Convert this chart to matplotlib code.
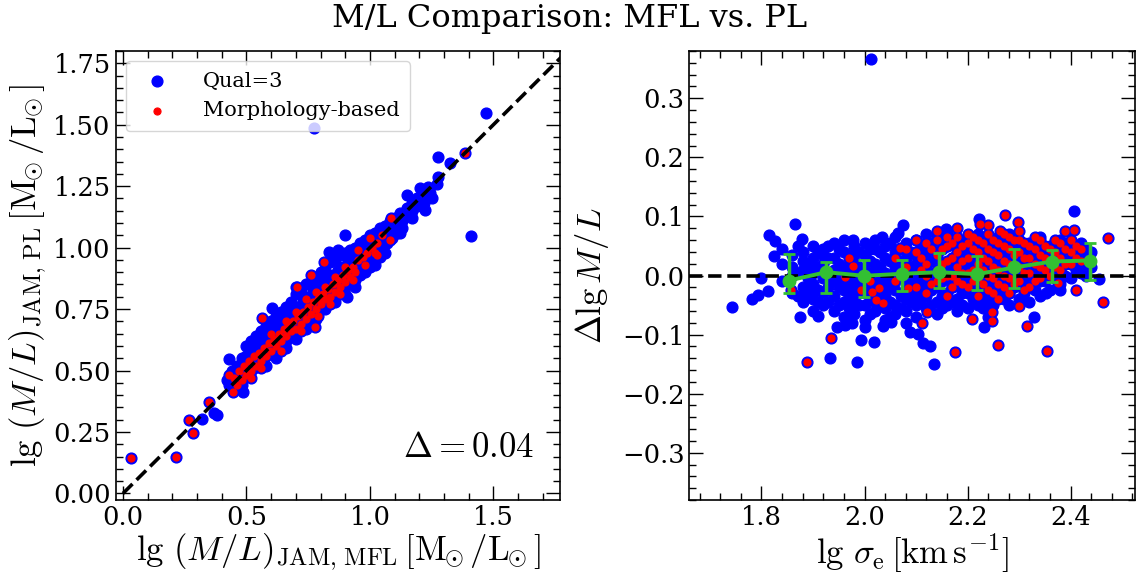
import numpy as np
import matplotlib
matplotlib.use('Agg')
import matplotlib.pyplot as plt
from matplotlib.ticker import MultipleLocator

plt.rcParams['font.family'] = 'DejaVu Serif'
plt.rcParams['mathtext.fontset'] = 'cm'

# ---- left panel: lg(M/L) MFL vs PL ----
left_blue = [
    (0.42, 0.46), (0.43, 0.44), (0.44, 0.50), (0.45, 0.46), (0.45, 0.43),
    (0.46, 0.52), (0.47, 0.49), (0.47, 0.45), (0.48, 0.55), (0.49, 0.52),
    (0.49, 0.48), (0.48, 0.44), (0.50, 0.60), (0.50, 0.56), (0.51, 0.53),
    (0.51, 0.49), (0.52, 0.62), (0.52, 0.58), (0.53, 0.55), (0.53, 0.51),
    (0.54, 0.64), (0.54, 0.60), (0.55, 0.57), (0.55, 0.53), (0.56, 0.66),
    (0.56, 0.62), (0.57, 0.59), (0.57, 0.55), (0.58, 0.52), (0.58, 0.68),
    (0.59, 0.64), (0.59, 0.60), (0.60, 0.57), (0.60, 0.70), (0.61, 0.66),
    (0.61, 0.62), (0.62, 0.58), (0.62, 0.55), (0.62, 0.72), (0.63, 0.68),
    (0.63, 0.64), (0.64, 0.60), (0.64, 0.74), (0.65, 0.70), (0.65, 0.66),
    (0.66, 0.62), (0.66, 0.59), (0.66, 0.76), (0.67, 0.72), (0.67, 0.68),
    (0.68, 0.64), (0.68, 0.78), (0.69, 0.74), (0.69, 0.70), (0.70, 0.66),
    (0.70, 0.63), (0.70, 0.81), (0.71, 0.76), (0.71, 0.72), (0.72, 0.68),
    (0.72, 0.83), (0.73, 0.78), (0.73, 0.74), (0.74, 0.70), (0.74, 0.67),
    (0.74, 0.85), (0.75, 0.80), (0.75, 0.76), (0.76, 0.72), (0.76, 0.86),
    (0.77, 0.82), (0.77, 0.78), (0.78, 0.74), (0.78, 0.71), (0.78, 0.87),
    (0.79, 0.84), (0.79, 0.80), (0.80, 0.76), (0.80, 0.90), (0.81, 0.86),
    (0.81, 0.82), (0.82, 0.78), (0.82, 0.75), (0.82, 0.91), (0.83, 0.87),
    (0.83, 0.83), (0.84, 0.79), (0.84, 0.94), (0.85, 0.89), (0.85, 0.85),
    (0.86, 0.81), (0.86, 0.78), (0.86, 0.95), (0.87, 0.91), (0.87, 0.87),
    (0.88, 0.83), (0.88, 0.97), (0.89, 0.92), (0.89, 0.88), (0.90, 0.84),
    (0.90, 0.81), (0.90, 0.98), (0.91, 0.94), (0.91, 0.90), (0.92, 0.86),
    (0.92, 0.99), (0.93, 0.95), (0.93, 0.91), (0.94, 0.87), (0.94, 0.84),
    (0.94, 1.00), (0.95, 0.96), (0.95, 0.93), (0.96, 0.89), (0.96, 1.02),
    (0.97, 0.98), (0.97, 0.94), (0.98, 0.90), (0.98, 1.03), (0.99, 0.99),
    (0.99, 0.95), (1.00, 0.92), (1.00, 1.05), (1.01, 1.01), (1.01, 0.97),
    (1.02, 0.93), (1.02, 1.06), (1.03, 1.03), (1.03, 0.99), (1.04, 0.96),
    (1.04, 1.08), (1.05, 1.05), (1.05, 1.01), (1.06, 0.98), (1.06, 1.09),
    (1.07, 1.06), (1.07, 1.02), (1.08, 1.11), (1.09, 1.08), (1.09, 1.04),
    (1.10, 1.12), (1.11, 1.09), (1.11, 1.06), (1.12, 1.14), (1.13, 1.11),
    (1.13, 1.08), (1.15, 1.16), (1.15, 1.13), (1.17, 1.18), (1.17, 1.15),
    (1.19, 1.20), (1.19, 1.17), (1.21, 1.22), (1.22, 1.18), (1.24, 1.24),
    (1.25, 1.20), (1.27, 1.26),
    # isolated points
    (0.32, 0.301), (0.37, 0.327), (0.382, 0.319), (0.43, 0.545),
    (0.484, 0.414), (0.602, 0.755), (0.901, 1.051), (1.411, 1.047),
    (1.472, 1.547), (0.773, 1.486), (1.274, 1.370), (1.324, 1.343),
    (1.274, 1.289), (1.149, 1.214), (1.203, 1.241), (1.237, 1.248),
    (1.243, 1.221), (1.223, 1.153), (1.169, 1.119), (1.123, 1.058),
    (0.907, 0.800), (0.833, 0.983), (0.70, 0.84), (0.87, 0.99),
]
left_red = [
    (0.45, 0.47), (0.46, 0.44), (0.47, 0.50), (0.48, 0.46), (0.49, 0.52),
    (0.50, 0.48), (0.51, 0.54), (0.52, 0.50), (0.53, 0.56), (0.54, 0.52),
    (0.55, 0.57), (0.56, 0.54), (0.57, 0.59), (0.58, 0.56), (0.59, 0.61),
    (0.60, 0.58), (0.61, 0.63), (0.62, 0.60), (0.63, 0.65), (0.64, 0.62),
    (0.65, 0.67), (0.66, 0.64), (0.67, 0.69), (0.68, 0.66), (0.69, 0.70),
    (0.70, 0.67), (0.71, 0.72), (0.72, 0.69), (0.73, 0.74), (0.74, 0.71),
    (0.75, 0.76), (0.76, 0.73), (0.77, 0.78), (0.78, 0.75), (0.79, 0.79),
    (0.80, 0.77), (0.81, 0.81), (0.82, 0.79), (0.83, 0.83), (0.84, 0.80),
    (0.85, 0.85), (0.86, 0.82), (0.87, 0.87), (0.88, 0.84), (0.89, 0.89),
    (0.90, 0.86), (0.91, 0.91), (0.92, 0.88), (0.93, 0.92), (0.94, 0.90),
    (0.95, 0.95), (0.97, 0.96), (0.99, 0.98), (1.01, 1.00), (1.03, 1.02),
    (1.05, 1.05), (0.60, 0.65), (0.66, 0.70), (0.70, 0.74), (0.74, 0.79),
    (0.78, 0.82), (0.82, 0.84), (0.86, 0.88), (0.90, 0.92), (0.95, 0.99),
    (1.00, 1.04), (1.02, 0.98), (0.98, 0.93), (0.93, 0.87), (0.88, 0.81),
    (0.84, 0.77), (0.79, 0.72), (0.72, 0.66), (0.64, 0.58), (0.56, 0.51),
    (0.52, 0.47),
    # isolated points
    (0.034, 0.142), (0.215, 0.149), (0.266, 0.298), (0.282, 0.247),
    (0.35, 0.373), (0.43, 0.48), (0.444, 0.414), (0.562, 0.712),
    (1.385, 1.384), (1.086, 1.122), (1.082, 1.031), (1.028, 0.970),
    (0.813, 0.943), (0.760, 0.888), (0.706, 0.841), (0.777, 0.678),
]
scatter_delta = 0.04

# ---- right panel: residual vs lg sigma_e ----
right_blue = [
    (1.84, 0.02), (1.84, -0.01), (1.84, 0.045),
    (1.86, 0.035), (1.86, 0.00), (1.86, -0.03), (1.86, 0.015),
    (1.88, 0.04), (1.88, 0.01), (1.88, -0.02), (1.88, -0.045), (1.88, 0.025),
    (1.90, 0.03), (1.90, 0.005), (1.90, -0.015), (1.90, -0.04), (1.90, 0.05), (1.90, -0.06),
    (1.92, 0.045), (1.92, 0.02), (1.92, -0.005), (1.92, -0.03), (1.92, -0.05), (1.92, 0.035),
    (1.94, 0.055), (1.94, 0.03), (1.94, 0.01), (1.94, -0.01), (1.94, -0.035), (1.94, -0.06),
    (1.96, 0.04), (1.96, 0.015), (1.96, -0.005), (1.96, -0.025), (1.96, -0.045), (1.96, 0.06), (1.96, -0.07),
    (1.98, 0.05), (1.98, 0.025), (1.98, 0.0), (1.98, -0.02), (1.98, -0.04), (1.98, -0.065),
    (2.00, 0.055), (2.00, 0.035), (2.00, 0.01), (2.00, -0.01), (2.00, -0.03), (2.00, -0.05), (2.00, -0.075),
    (2.02, 0.045), (2.02, 0.02), (2.02, 0.0), (2.02, -0.02), (2.02, -0.045), (2.02, -0.06), (2.02, 0.06),
    (2.04, 0.05), (2.04, 0.03), (2.04, 0.005), (2.04, -0.015), (2.04, -0.035), (2.04, -0.055), (2.04, -0.075),
    (2.06, 0.065), (2.06, 0.04), (2.06, 0.015), (2.06, -0.005), (2.06, -0.025), (2.06, -0.05), (2.06, -0.065),
    (2.08, 0.055), (2.08, 0.03), (2.08, 0.01), (2.08, -0.015), (2.08, -0.04), (2.08, -0.06), (2.08, -0.08),
    (2.10, 0.06), (2.10, 0.035), (2.10, 0.02), (2.10, -0.005), (2.10, -0.03), (2.10, -0.05), (2.10, -0.07),
    (2.12, 0.07), (2.12, 0.04), (2.12, 0.015), (2.12, -0.01), (2.12, -0.035), (2.12, -0.055),
    (2.14, 0.065), (2.14, 0.03), (2.14, 0.005), (2.14, -0.02), (2.14, -0.045), (2.14, -0.065),
    (2.16, 0.075), (2.16, 0.05), (2.16, 0.02), (2.16, -0.005), (2.16, -0.03), (2.16, -0.05),
    (2.18, 0.06), (2.18, 0.035), (2.18, 0.01), (2.18, -0.015), (2.18, -0.04), (2.18, -0.06),
    (2.20, 0.065), (2.20, 0.04), (2.20, 0.015), (2.20, -0.01), (2.20, -0.03), (2.20, -0.055),
    (2.22, 0.07), (2.22, 0.045), (2.22, 0.02), (2.22, -0.005), (2.22, -0.025), (2.22, -0.05),
    (2.24, 0.06), (2.24, 0.03), (2.24, 0.005), (2.24, -0.02), (2.24, -0.045), (2.24, -0.07),
    (2.26, 0.065), (2.26, 0.04), (2.26, 0.015), (2.26, -0.01), (2.26, -0.035),
    (2.28, 0.07), (2.28, 0.045), (2.28, 0.02), (2.28, -0.005), (2.28, -0.03), (2.28, -0.05),
    (2.30, 0.06), (2.30, 0.035), (2.30, 0.01), (2.30, -0.015), (2.30, -0.04),
    (2.32, 0.055), (2.32, 0.03), (2.32, 0.005), (2.32, -0.02), (2.32, -0.045),
    (2.34, 0.065), (2.34, 0.04), (2.34, 0.015), (2.34, -0.01), (2.34, -0.035),
    (2.36, 0.05), (2.36, 0.025), (2.36, 0.0), (2.36, -0.025),
    (2.38, 0.06), (2.38, 0.035), (2.38, 0.01), (2.38, -0.015),
    (2.40, 0.045), (2.40, 0.02), (2.40, -0.005),
    (2.42, 0.055), (2.42, 0.03), (2.42, 0.005),
    (2.44, 0.04), (2.44, 0.015),
    (1.87, 0.005), (1.87, -0.035), (1.87, 0.05),
    (1.89, 0.02), (1.89, -0.005), (1.89, -0.03),
    (1.91, 0.04), (1.91, 0.015), (1.91, -0.025), (1.91, -0.045),
    (1.93, 0.03), (1.93, 0.0), (1.93, -0.02), (1.93, -0.045), (1.93, 0.05),
    (1.95, 0.045), (1.95, 0.02), (1.95, 0.0), (1.95, -0.02), (1.95, -0.05),
    (1.97, 0.035), (1.97, 0.01), (1.97, -0.015), (1.97, -0.035), (1.97, -0.055),
    (1.99, 0.04), (1.99, 0.015), (1.99, -0.01), (1.99, -0.03), (1.99, -0.05),
    (2.01, 0.045), (2.01, 0.025), (2.01, 0.005), (2.01, -0.015), (2.01, -0.04), (2.01, -0.065),
    (2.03, 0.04), (2.03, 0.015), (2.03, -0.005), (2.03, -0.025), (2.03, -0.05),
    (2.05, 0.055), (2.05, 0.025), (2.05, 0.0), (2.05, -0.02), (2.05, -0.045), (2.05, -0.07),
    (2.07, 0.045), (2.07, 0.02), (2.07, 0.0), (2.07, -0.035), (2.07, -0.055),
    (2.09, 0.04), (2.09, 0.015), (2.09, -0.005), (2.09, -0.025), (2.09, -0.045),
    (2.11, 0.05), (2.11, 0.025), (2.11, 0.005), (2.11, -0.02), (2.11, -0.04),
    (2.13, 0.055), (2.13, 0.025), (2.13, 0.0), (2.13, -0.025), (2.13, -0.05),
    (2.15, 0.045), (2.15, 0.015), (2.15, -0.01), (2.15, -0.035), (2.15, -0.055),
    (2.17, 0.06), (2.17, 0.03), (2.17, 0.005), (2.17, -0.02), (2.17, -0.045),
    (2.19, 0.05), (2.19, 0.02), (2.19, -0.005), (2.19, -0.03), (2.19, -0.05),
    (2.21, 0.055), (2.21, 0.03), (2.21, 0.005), (2.21, -0.02), (2.21, -0.04),
    (2.23, 0.05), (2.23, 0.015), (2.23, -0.01), (2.23, -0.035), (2.23, -0.055),
    (2.25, 0.05), (2.25, 0.025), (2.25, 0.0), (2.25, -0.025), (2.25, -0.05),
    (2.27, 0.055), (2.27, 0.03), (2.27, 0.005), (2.27, -0.02), (2.27, -0.04),
    (2.29, 0.05), (2.29, 0.025), (2.29, 0.0), (2.29, -0.02),
    (2.31, 0.045), (2.31, 0.02), (2.31, -0.005), (2.31, -0.03),
    (2.33, 0.05), (2.33, 0.025), (2.33, 0.0), (2.33, -0.025),
    (2.35, 0.04), (2.35, 0.015), (2.35, -0.01),
    (2.37, 0.045), (2.37, 0.02), (2.37, -0.005),
    (2.39, 0.05), (2.39, 0.025), (2.39, 0.0),
    (2.41, 0.035), (2.41, 0.01),
    (2.43, 0.045), (2.43, 0.02), (2.43, 0.0),
    # isolated points
    (2.012, 0.367), (1.743, -0.0525), (1.781, -0.039), (1.793, -0.033),
    (1.815, 0.069), (1.826, 0.058), (1.865, 0.088), (1.879, 0.062),
    (1.824, 0.033), (1.80, -0.004), (1.813, -0.027), (1.874, -0.071),
    (1.91, -0.069), (1.933, -0.14), (1.986, -0.147), (1.994, -0.109),
    (2.019, -0.112), (1.946, -0.087), (1.963, -0.084), (1.976, -0.08),
    (2.0, -0.087), (2.036, -0.086), (2.051, -0.078), (2.088, -0.095),
    (2.104, -0.099), (2.113, -0.115), (2.127, -0.119), (2.135, -0.150),
    (2.232, -0.087), (2.329, -0.071), (2.455, -0.006), (2.406, 0.110),
    (2.222, 0.096), (2.379, -0.024), (2.353, -0.030), (2.075, 0.086),
    (2.065, 0.072), (2.033, 0.066), (1.978, 0.060), (2.159, 0.078),
    (2.14, 0.072),
]
right_red = [
    (2.06, 0.03), (2.06, -0.01), (2.08, 0.045), (2.08, 0.015),
    (2.10, 0.04), (2.10, -0.02), (2.10, 0.06),
    (2.12, 0.055), (2.12, 0.02), (2.12, 0.0), (2.12, -0.03),
    (2.14, 0.06), (2.14, 0.035), (2.14, 0.01), (2.14, -0.01), (2.14, 0.075),
    (2.16, 0.05), (2.16, 0.025), (2.16, 0.0), (2.16, -0.035), (2.16, 0.065),
    (2.18, 0.065), (2.18, 0.04), (2.18, 0.015), (2.18, -0.01), (2.18, 0.08),
    (2.20, 0.055), (2.20, 0.03), (2.20, 0.005), (2.20, -0.02), (2.20, 0.07),
    (2.22, 0.06), (2.22, 0.04), (2.22, 0.02), (2.22, -0.005), (2.22, -0.035),
    (2.24, 0.07), (2.24, 0.045), (2.24, 0.025), (2.24, 0.0), (2.24, -0.025), (2.24, 0.085),
    (2.26, 0.055), (2.26, 0.035), (2.26, 0.01), (2.26, -0.015), (2.26, -0.04),
    (2.28, 0.065), (2.28, 0.045), (2.28, 0.02), (2.28, -0.005), (2.28, -0.03),
    (2.30, 0.06), (2.30, 0.04), (2.30, 0.015), (2.30, -0.01), (2.30, 0.075),
    (2.32, 0.05), (2.32, 0.03), (2.32, 0.005), (2.32, -0.02),
    (2.34, 0.06), (2.34, 0.035), (2.34, 0.015), (2.34, -0.005),
    (2.36, 0.045), (2.36, 0.025), (2.36, 0.0),
    (2.38, 0.055), (2.38, 0.03), (2.38, 0.01),
    (2.40, 0.06), (2.40, 0.04), (2.40, 0.02),
    (2.42, 0.045), (2.42, 0.025), (1.97, 0.03), (2.01, -0.01),
    (2.15, 0.045), (2.15, 0.02), (2.15, -0.005),
    (2.17, 0.055), (2.17, 0.03), (2.17, 0.0), (2.17, -0.02),
    (2.19, 0.05), (2.19, 0.025), (2.19, 0.005), (2.19, -0.015),
    (2.21, 0.065), (2.21, 0.045), (2.21, 0.01), (2.21, -0.01),
    (2.23, 0.055), (2.23, 0.03), (2.23, 0.01), (2.23, -0.015),
    (2.25, 0.06), (2.25, 0.04), (2.25, 0.015), (2.25, -0.005), (2.25, -0.03),
    (2.27, 0.07), (2.27, 0.05), (2.27, 0.025), (2.27, 0.0), (2.27, -0.02),
    (2.29, 0.06), (2.29, 0.035), (2.29, 0.01), (2.29, -0.015),
    (2.31, 0.055), (2.31, 0.03), (2.31, 0.005), (2.31, -0.025),
    (2.33, 0.065), (2.33, 0.045), (2.33, 0.02), (2.33, -0.01),
    (2.35, 0.05), (2.35, 0.03), (2.35, 0.01),
    (2.37, 0.06), (2.37, 0.04), (2.37, 0.015),
    (2.39, 0.045), (2.39, 0.02), (2.41, 0.05), (2.41, 0.03),
    (2.11, 0.03), (2.11, 0.01), (2.13, 0.045), (2.13, -0.015),
    # isolated points
    (1.934, -0.105), (1.889, -0.146), (2.111, -0.081), (2.122, -0.061),
    (2.175, -0.130), (2.208, -0.073), (2.259, -0.117), (2.247, -0.061),
    (2.247, -0.077), (2.315, -0.085), (2.355, -0.128), (2.30, -0.051),
    (2.41, -0.024), (2.462, -0.044), (2.472, 0.064), (2.389, 0.076),
    (2.406, 0.077), (2.272, 0.103), (2.298, 0.09), (2.224, 0.088),
    (2.263, 0.075), (2.376, -0.013), (2.069, 0.046), (1.978, 0.016),
    (1.963, -0.003), (2.028, -0.021), (2.014, -0.028), (2.023, -0.041),
    (2.035, -0.047), (1.994, -0.025), (2.085, -0.021), (1.857, -0.025),
]

# binned medians with percentile errors
bin_sigma = [1.853, 1.926, 1.999, 2.072, 2.145, 2.218, 2.291, 2.364, 2.437]
bin_median = [-0.0085, 0.0057, -0.0005, 0.0029, 0.0057, 0.0023, 0.0136, 0.0237, 0.0254]
bin_upper = [0.0368, 0.0237, 0.0266, 0.0266, 0.0373, 0.0334, 0.0452, 0.0435, 0.0549]
bin_lower = [-0.0288, -0.0299, -0.0356, -0.0254, -0.0214, -0.0243, -0.0214, -0.0112, -0.0073]

blue_size = 60
red_size = 26
label_size = 25

fig = plt.figure(figsize=(11.39, 5.77), dpi=100)
ax1 = fig.add_axes([0.1015, 0.1334, 0.3902, 0.7782])
ax2 = fig.add_axes([0.6052, 0.1334, 0.3913, 0.7782])


def style_axis(ax):
    ax.tick_params(which='both', direction='in', top=True, right=True,
                   labelsize=18.5, width=1)
    ax.tick_params(which='major', length=10)
    ax.tick_params(which='minor', length=5)
    for sp in ax.spines.values():
        sp.set_linewidth(1.2)


# left panel
lb = np.array(left_blue).T
lr = np.array(left_red).T
ax1.scatter(np.r_[lb[0], lr[0]], np.r_[lb[1], lr[1]], s=blue_size, c='blue',
            edgecolors='blue', linewidths=1, label='Qual=3', zorder=2)
ax1.scatter(lr[0], lr[1], s=red_size, c='red', edgecolors='red', linewidths=0.8,
            label='Morphology-based', zorder=3)
ax1.plot([0, 2], [0, 2], 'k--', lw=2.6, zorder=4)
ax1.set_xlim(-0.03, 1.77)
ax1.set_ylim(-0.027, 1.80)
ax1.xaxis.set_major_locator(MultipleLocator(0.5))
ax1.xaxis.set_minor_locator(MultipleLocator(0.1))
ax1.yaxis.set_major_locator(MultipleLocator(0.25))
ax1.yaxis.set_minor_locator(MultipleLocator(0.05))
unit = r'[\mathrm{M}_{\!\!\odot}/\mathrm{L}_{\!\!\odot}]'
ax1.set_xlabel(r'$\lg\,(M/L)_{\rm JAM,\,MFL}\,' + unit + '$', fontsize=label_size, labelpad=1)
ax1.set_ylabel(r'$\lg\,(M/L)_{\rm JAM,\,PL}\,' + unit + '$', fontsize=label_size, labelpad=3)
ax1.text(0.94, 0.08, r'$\Delta = %.2f$' % scatter_delta, transform=ax1.transAxes,
         ha='right', va='bottom', fontsize=25)
ax1.legend(loc='upper left', fontsize=15, handletextpad=1.2, borderpad=0.5,
           labelspacing=0.5)
style_axis(ax1)

# right panel
rb = np.array(right_blue).T
rr = np.array(right_red).T
ax2.scatter(np.r_[rb[0], rr[0]], np.r_[rb[1], rr[1]], s=blue_size, c='blue',
            edgecolors='blue', linewidths=1, zorder=2)
ax2.scatter(rr[0], rr[1], s=red_size, c='red', edgecolors='red', linewidths=0.8,
            zorder=3)
ax2.axhline(0, color='k', ls='--', lw=2.6, zorder=4)
med = np.array(bin_median)
yerr = [med - np.array(bin_lower), np.array(bin_upper) - med]
ax2.errorbar(bin_sigma, med, yerr=yerr, color='#33c033', marker='o', ms=9,
             lw=2.8, elinewidth=2.5, capsize=4, capthick=2, zorder=5)
ax2.set_xlim(1.66, 2.525)
ax2.set_ylim(-0.38, 0.38)
ax2.xaxis.set_major_locator(MultipleLocator(0.2))
ax2.xaxis.set_minor_locator(MultipleLocator(0.04))
ax2.yaxis.set_major_locator(MultipleLocator(0.1))
ax2.yaxis.set_minor_locator(MultipleLocator(0.02))
ax2.set_xlabel(r'$\lg\,\sigma_{\rm e}\,[\rm km\,s^{-1}]$', fontsize=label_size, labelpad=1)
ax2.set_ylabel(r'$\Delta \lg M/L$', fontsize=label_size, labelpad=8)
style_axis(ax2)

fig.suptitle('M/L Comparison: MFL vs. PL', fontsize=23, y=0.995)

fig.savefig('out.png', dpi=100)
